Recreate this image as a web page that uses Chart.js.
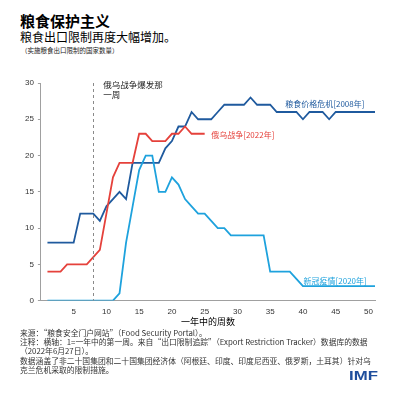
<!DOCTYPE html>
<html>
<head>
<meta charset="utf-8">
<script src="https://cdn.jsdelivr.net/npm/chart.js@4.4.1/dist/chart.umd.min.js"></script>
<style>
  html, body { margin:0; padding:0; background:#fff; }
  body { width:398px; height:398px; position:relative; overflow:hidden; font-family:"Noto Sans CJK SC","Liberation Sans",sans-serif; }
  .abs { position:absolute; white-space:nowrap; line-height:1; }
  #chartBox { position:absolute; left:0; top:0; width:398px; height:398px; }
  .foot { position:absolute; left:20px; top:328px; font-size:7.8px; line-height:9px; color:#333; white-space:nowrap; }
</style>
</head>
<body>
<div class="abs" style="left:20px;top:13px;font-size:15px;font-weight:bold;color:#000;">粮食保护主义</div>
<div class="abs" style="left:20px;top:31px;font-size:12px;color:#000;">粮食出口限制再度大幅增加。</div>
<div class="abs" style="left:21px;top:47px;font-size:6.5px;color:#222;">（实施粮食出口限制的国家数量）</div>
<div id="chartBox"><canvas id="c" width="398" height="398"></canvas></div>
<div class="foot">
  <div>来源：“粮食安全门户网站”（Food Security Portal）。</div>
  <div>注释：横轴：1=一年中的第一周。来自“出口限制追踪”（Export Restriction Tracker）数据库的数据</div>
  <div>（2022年6月27日）。</div>
  <div style="margin-top:1px">数据涵盖了非二十国集团和二十国集团经济体（阿根廷、印度、印度尼西亚、俄罗斯，土耳其）针对乌</div>
  <div>克兰危机采取的限制措施。</div>
</div>
<div class="abs" style="left:349px;top:370px;font-family:'Liberation Sans',sans-serif;font-weight:bold;font-size:12px;color:#1f4e9c;transform:scaleX(1.4);transform-origin:left top;">IMF</div>
<script>
// ---- data ----
const weeks = [1,2,3,4,5,6,7,8,9,10,11,12,13,14,15,16,17,18,19,20,21,22,23,24,25,26,27,28,29,30,31,32,33,34,35,36,37,38,39,40,41,42,43,44,45,46,47,48,49,50,51];
const crisis2008 = [8,8,8,8,8,12,12,12,11,13,14,15,14,19,19,19,19,19,21,22,24,24,26,25,25,25,26,27,27,27,27,28,27,27,27,26,26,26,26,25,26,26,26,25,26,26,26,26,26,26,26];
const war2022 = [4,4,4,5,5,5,5,6,7,12,17,19,19,19,23,23,22,22,22,23,23,24,23,23,23];
const covid2020 = [0,0,0,0,0,0,0,0,0,0,0,1,8,13,18,20,20,15,15,17,16,14,13,12,12,11,10,10,9,9,9,9,9,9,4,4,4,4,3,2,2,2,2,2,2,2,2,2,2,2,2];
const seriesNames = ["粮食价格危机[2008年]", "俄乌战争[2022年]", "新冠疫情[2020年]"];
const xTickValues = [5,10,15,20,25,30,35,40,45,50];
const yTickValues = [0,5,10,15,20,25,30];
const warStartWeek = 8;
const warNote = ["俄乌战争爆发那", "一周"];
const xTitle = "一年中的周数";

const toXY = (vals) => vals.map((v, i) => ({ x: weeks[i], y: v }));

const colors = { c2008: "#1f5a9e", c2022: "#e5413b", c2020: "#1ea2dd" };

const annot = {
  id: "annot",
  afterDatasetsDraw(chart) {
    const { ctx, scales: { x, y } } = chart;
    ctx.save();
    ctx.strokeStyle = "#8a8a8a";
    ctx.lineWidth = 1;
    ctx.setLineDash([3, 3]);
    const px = Math.round(x.getPixelForValue(warStartWeek)) + 0.5;
    ctx.beginPath();
    ctx.moveTo(px, y.getPixelForValue(30));
    ctx.lineTo(px, y.getPixelForValue(0));
    ctx.stroke();
    ctx.setLineDash([]);
    ctx.font = '8.5px "Noto Sans CJK SC", sans-serif';
    ctx.fillStyle = "#222";
    ctx.textBaseline = "middle";
    ctx.textAlign = "left";
    const nx = x.getPixelForValue(warStartWeek) + 10;
    ctx.fillText(warNote[0], nx, y.getPixelForValue(29.5) - 2);
    ctx.fillText(warNote[1], nx, y.getPixelForValue(29.5) + 8);
    ctx.font = '8px "Noto Sans CJK SC", sans-serif';
    ctx.fillStyle = colors.c2008;
    ctx.fillText(seriesNames[0], x.getPixelForValue(37.3), y.getPixelForValue(27.1));
    ctx.fillStyle = colors.c2022;
    ctx.fillText(seriesNames[1], x.getPixelForValue(26.0), y.getPixelForValue(22.9));
    ctx.fillStyle = colors.c2020;
    ctx.fillText(seriesNames[2], x.getPixelForValue(40.1), y.getPixelForValue(2.75));
    ctx.restore();
  }
};

const ds = (label, vals, color) => ({
  label, data: toXY(vals), borderColor: color, backgroundColor: color,
  borderWidth: 1.8, pointRadius: 0, tension: 0, fill: false
});

new Chart(document.getElementById("c"), {
  type: "line",
  data: {
    datasets: [
      ds(seriesNames[2], covid2020, colors.c2020),
      ds(seriesNames[1], war2022, colors.c2022),
      ds(seriesNames[0], crisis2008, colors.c2008)
    ]
  },
  options: {
    responsive: false,
    animation: false,
    devicePixelRatio: 1,
    layout: { padding: { left: 21, right: 23, top: 83, bottom: 71 } },
    plugins: { legend: { display: false }, tooltip: { enabled: false } },
    scales: {
      x: {
        type: "linear", min: 0, max: 51,
        afterBuildTicks: (s) => { s.ticks = xTickValues.map(v => ({ value: v })); },
        ticks: { color: "#333", font: { family: "Liberation Sans", size: 8 }, padding: 6, maxRotation: 0, autoSkip: false },
        grid: { display: false, drawTicks: false },
        border: { display: true, color: "#a0a0a0", width: 1 },
        title: { display: true, text: xTitle, color: "#000", font: { family: "Noto Sans CJK SC", size: 9 }, padding: { top: -6, bottom: 0 } }
      },
      y: {
        min: 0, max: 30,
        afterBuildTicks: (s) => { s.ticks = yTickValues.map(v => ({ value: v })); },
        ticks: { color: "#333", font: { family: "Liberation Sans", size: 8 }, padding: 4 },
        grid: { drawOnChartArea: false, drawTicks: true, tickLength: 3, color: "#a0a0a0" },
        border: { display: true, color: "#a0a0a0", width: 1 }
      }
    }
  },
  plugins: [annot]
});
</script>
</body>
</html>
